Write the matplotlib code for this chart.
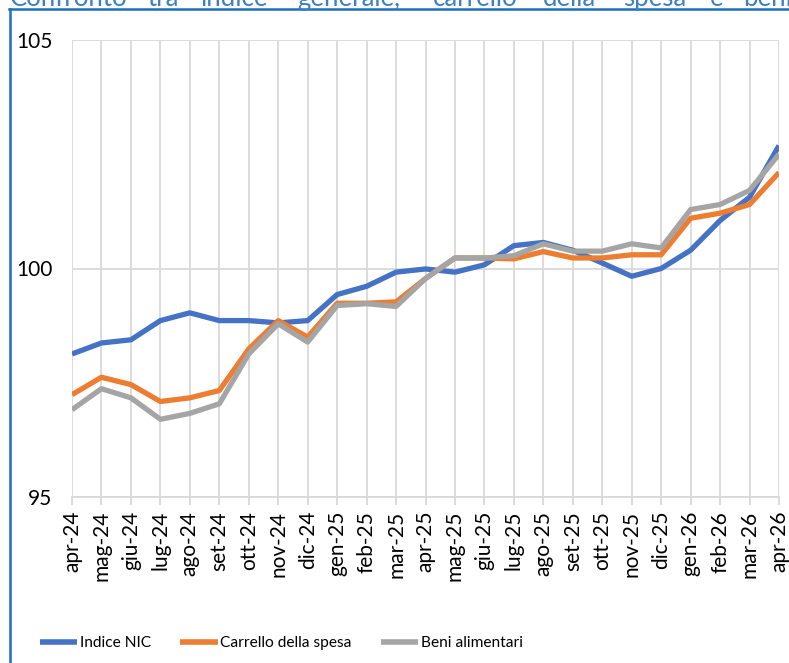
#!/usr/bin/env python3
"""
Confronto tra indice generale, carrello della spesa e beni alimentari
"""
import numpy as np
import matplotlib
matplotlib.use("Agg")
import matplotlib.pyplot as plt
from matplotlib.lines import Line2D

months = ["apr-24", "mag-24", "giu-24", "lug-24", "ago-24", "set-24", "ott-24",
          "nov-24", "dic-24", "gen-25", "feb-25", "mar-25", "apr-25", "mag-25",
          "giu-25", "lug-25", "ago-25", "set-25", "ott-25", "nov-25", "dic-25",
          "gen-26", "feb-26", "mar-26", "apr-26"]

indice_nic = [98.13, 98.37, 98.44, 98.86, 99.03, 98.86, 98.86, 98.81, 98.86,
              99.43, 99.61, 99.92, 99.99, 99.92, 100.08, 100.50, 100.57, 100.40,
              100.12, 99.83, 100.00, 100.40, 101.05, 101.56, 102.69]
carrello = [97.24, 97.62, 97.46, 97.09, 97.17, 97.33, 98.24, 98.86, 98.50,
            99.24, 99.24, 99.27, 99.78, 100.23, 100.23, 100.21, 100.37, 100.23,
            100.23, 100.30, 100.30, 101.10, 101.21, 101.40, 102.10]
beni_alimentari = [96.91, 97.37, 97.17, 96.70, 96.83, 97.04, 98.13, 98.79, 98.39,
                   99.19, 99.23, 99.17, 99.78, 100.23, 100.23, 100.28, 100.54, 100.38,
                   100.38, 100.54, 100.45, 101.29, 101.40, 101.71, 102.50]

series = [("Indice NIC", indice_nic, "#4472C4"),
          ("Carrello della spesa", carrello, "#ED7D31"),
          ("Beni alimentari", beni_alimentari, "#A5A5A5")]

# title words, justified across the slide in the original (cut at the top)
title_words = ["Confronto", "tra", "indice", "generale,", "carrello", "della",
               "spesa", "e", "beni"]
title_x = [10, 147, 200, 297, 433, 543, 623, 710, 743]

FONT = "Lato"
GRID = "#D9D9D9"


def main():
    W, H = 789, 663
    fig = plt.figure(figsize=(W / 100, H / 100), dpi=100)
    ax = fig.add_axes([72 / W, 1 - 497 / H, (779 - 72) / W, (497 - 40) / H])

    x = np.arange(len(months))
    for name, vals, col in series:
        ax.plot(x, vals, color=col, lw=3.8, label=name, solid_capstyle="butt",
                solid_joinstyle="round", zorder=3)

    ax.set_xlim(0, len(months) - 1)
    ax.set_ylim(95, 105)
    ax.set_yticks([95, 100, 105])
    ax.set_xticks(x)
    ax.set_xticklabels(months, rotation=90, fontsize=15, family=FONT)
    for lab in ax.get_yticklabels():
        lab.set_family(FONT)
        lab.set_fontsize(15)

    ax.grid(True, color=GRID, lw=1.3, zorder=0)
    for side in ["top", "right", "left"]:
        ax.spines[side].set_visible(False)
    ax.spines["bottom"].set_color(GRID)
    ax.spines["bottom"].set_linewidth(1.3)
    ax.tick_params(axis="x", length=6, width=1.3, color=GRID, pad=4)
    ax.tick_params(axis="y", length=0, pad=14)

    leg = fig.legend(loc="center left", bbox_to_anchor=(26 / W, 1 - 643 / H), ncol=3,
                     frameon=False, prop={"family": FONT, "size": 11.2},
                     handlelength=2.4, handletextpad=0.15, columnspacing=1.9)
    for h in leg.get_lines():
        h.set_linewidth(4)

    # blue frame of the slide box
    fig.add_artist(Line2D([9 / W, 1], [1 - 9 / H, 1 - 9 / H], color="#1F6FC1", lw=1.8))
    fig.add_artist(Line2D([9.5 / W, 9.5 / W], [0, 1 - 9 / H], color="#1F6FC1", lw=1.8))

    # title cut off at the top edge, as in the original screenshot
    for word, px in zip(title_words, title_x):
        fig.text(px / W, 1 - 6 / H, word, color="#3E7FC4", fontsize=18.5,
                 family=FONT, va="baseline", ha="left")

    plt.savefig("out.png", dpi=100)


if __name__ == "__main__":
    main()
